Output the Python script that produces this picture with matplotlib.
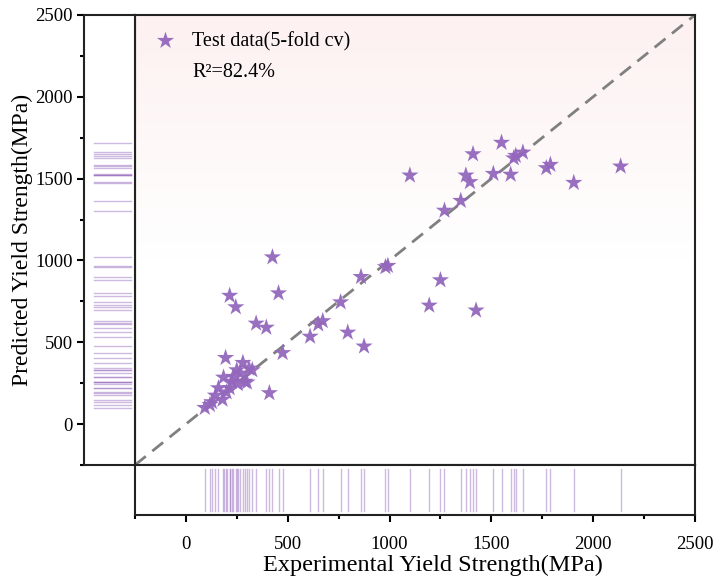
import numpy as np
import matplotlib
matplotlib.use("Agg")
import matplotlib.pyplot as plt
from matplotlib.ticker import MultipleLocator

# experimental vs predicted yield strength (MPa)
exp_ys = [93, 118, 128, 145, 160, 180, 185, 195, 200, 215, 215, 225, 232, 245,
          250, 255, 268, 280, 290, 300, 310, 326, 345, 410, 395, 425, 455, 475,
          610, 650, 672, 760, 795, 860, 875, 980, 992, 1100, 1195, 1250, 1270,
          1350, 1375, 1395, 1410, 1425, 1510, 1550, 1595, 1610, 1620, 1655,
          1770, 1790, 1905, 2135]
pred_ys = [100, 118, 135, 175, 220, 150, 285, 405, 195, 220, 785, 260, 290, 715,
           330, 245, 310, 375, 260, 255, 340, 330, 615, 190, 590, 1020, 800, 435,
           535, 610, 630, 745, 560, 900, 475, 960, 968, 1520, 725, 880, 1305,
           1365, 1520, 1480, 1650, 695, 1530, 1720, 1525, 1625, 1640, 1660,
           1565, 1585, 1475, 1575]
r2_text = "R\u00b2=82.4%"
legend_label = "Test data(5-fold cv)"
lims = (-250, 2500)

PURPLE = "#9467bd"
plt.rcParams["font.family"] = ["Liberation Serif", "DejaVu Serif"]

fig = plt.figure(figsize=(7.13, 5.83), dpi=100)
bot, hgt = 0.2024, 0.7719
ax = fig.add_axes([0.1893, bot, 0.7854, hgt])
axl = fig.add_axes([0.1178, bot, 0.0715, hgt], sharey=ax)
axb = fig.add_axes([0.1893, 0.1166, 0.7854, 0.0858], sharex=ax)

# pink fade at the top of the main panel
grad = np.clip((np.linspace(lims[0], lims[1], 200) - 1000) / 1500, 0, 1)[:, None]
pink = np.zeros((200, 1, 4))
pink[..., 0] = 0.99
pink[..., 1] = 0.90
pink[..., 2] = 0.90
pink[..., 3] = grad * 0.55
ax.imshow(pink, extent=[lims[0], lims[1], lims[0], lims[1]], origin="lower",
          aspect="auto", zorder=0)

ax.plot(lims, lims, ls=(0, (5, 3)), color="#808080", lw=2, zorder=1)
ax.scatter(exp_ys, pred_ys, marker="*", s=170, color=PURPLE, edgecolors="none",
           alpha=0.95, label=legend_label, zorder=3)
ax.set_xlim(lims)
ax.set_ylim(lims)
ax.tick_params(left=False, bottom=False, labelleft=False, labelbottom=False)
ax.legend(loc="upper left", bbox_to_anchor=(-0.003, 0.99), frameon=False,
          fontsize=14.5, handletextpad=0.3, borderaxespad=0.2, scatterpoints=1)
ax.text(0.102, 0.873, r2_text, transform=ax.transAxes, fontsize=14.5, va="center")

# rug panels
for v in pred_ys:
    axl.plot([0.2, 0.93], [v, v], color=PURPLE, alpha=0.45, lw=1)
axl.set_xlim(0, 1)
axl.set_xticks([])
for v in exp_ys:
    axb.plot([v, v], [0.08, 0.93], color=PURPLE, alpha=0.45, lw=1)
axb.set_ylim(0, 1)
axb.set_yticks([])

axl.yaxis.set_major_locator(MultipleLocator(500))
axl.yaxis.set_minor_locator(MultipleLocator(250))
axb.xaxis.set_major_locator(MultipleLocator(500))
axb.xaxis.set_minor_locator(MultipleLocator(250))
axl.tick_params(axis="y", which="major", direction="out", length=5, width=1.5,
                labelsize=13.5, right=False, pad=3)
axl.tick_params(axis="y", which="minor", direction="out", length=3, width=1.5,
                right=False)
axb.tick_params(axis="x", which="major", direction="out", length=5, width=1.5,
                labelsize=13.5, top=False, pad=10)
axb.tick_params(axis="x", which="minor", direction="out", length=3, width=1.5,
                top=False)
axl.set_ylabel("Predicted Yield Strength(MPa)", fontsize=17, labelpad=2)
axb.set_xlabel("Experimental Yield Strength(MPa)", fontsize=17.5, labelpad=2)
axb.xaxis.set_label_coords(0.532, -0.8)

for a in (ax, axl, axb):
    for s in a.spines.values():
        s.set_linewidth(1.5)
        s.set_color("#222222")

fig.savefig("out.png", dpi=100)
